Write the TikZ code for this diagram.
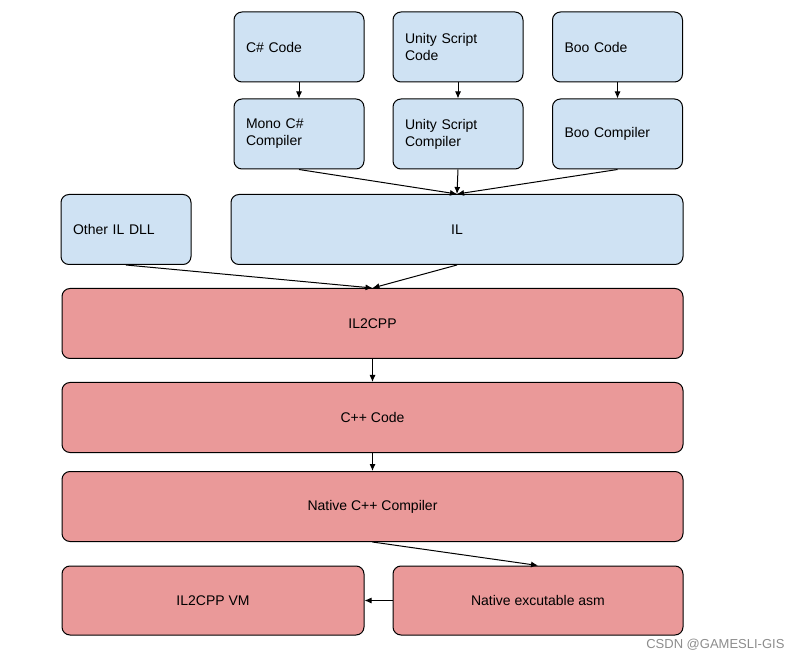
\documentclass[tikz,border=0pt]{standalone}
\usepackage{fontspec}
\setmainfont{Liberation Sans}
\usetikzlibrary{arrows.meta}
\definecolor{BlueBox}{RGB}{207,226,243}
\definecolor{RedBox}{RGB}{234,153,153}
\tikzset{
  box/.style={draw=black, line width=1pt, rounded corners=8pt, inner sep=0pt,
    font=\fontsize{14}{17}\selectfont},
  small/.style={box, fill=BlueBox, minimum width=130pt, minimum height=70pt,
    text width=106pt, align=left},
  wide/.style={box, minimum height=70pt, align=center},
  flow/.style={-{Latex[length=7pt,width=6pt]}, line width=1pt}
}
\begin{document}
\begin{tikzpicture}[x=1pt,y=-1pt]
\useasboundingbox (0,0) rectangle (801,660);

% source code
\node[small] (cs) at (299,47) {C\# Code};
\node[small] (us) at (458,47) {Unity Script\\Code};
\node[small] (boo) at (617.5,47) {Boo Code};
% compilers
\node[small] (mono) at (299,134) {Mono C\#\\Compiler};
\node[small] (usc) at (458,134) {Unity Script\\Compiler};
\node[small] (booc) at (617.5,134) {Boo Compiler};
% IL
\node[small] (dll) at (126,229.5) {Other IL DLL};
\node[wide, fill=BlueBox, minimum width=452pt] (il) at (457,229.5) {IL};
% native side
\node[wide, fill=RedBox, minimum width=621pt] (il2cpp) at (372.5,323.5) {IL2CPP};
\node[wide, fill=RedBox, minimum width=621pt] (cpp) at (372.5,417.5) {C++ Code};
\node[wide, fill=RedBox, minimum width=621pt] (ncc) at (372.5,506.5) {Native C++ Compiler};
\node[wide, fill=RedBox, minimum width=302pt, minimum height=69pt] (vm) at (213,600.5) {IL2CPP VM};
\node[wide, fill=RedBox, minimum width=290pt, minimum height=69pt] (asm) at (538,600.5) {Native excutable asm};

\draw[flow] (cs) -- (mono);
\draw[flow] (us) -- (usc);
\draw[flow] (boo) -- (booc);
\draw[flow] (mono.south) -- (il.north);
\draw[flow] (usc.south) -- (il.north);
\draw[flow] (booc.south) -- (il.north);
\draw[flow] (dll.south) -- (il2cpp.north);
\draw[flow] (il.south) -- (il2cpp.north);
\draw[flow] (il2cpp) -- (cpp);
\draw[flow] (cpp) -- (ncc);
\draw[flow] (ncc.south) -- (asm.north);
\draw[flow] (asm) -- (vm);

\node[anchor=east, text=black!45, font=\fontsize{13}{15}\selectfont] (mark) at (788,645) {CSDN @GAMESLI-GIS};
\end{tikzpicture}
\end{document}
